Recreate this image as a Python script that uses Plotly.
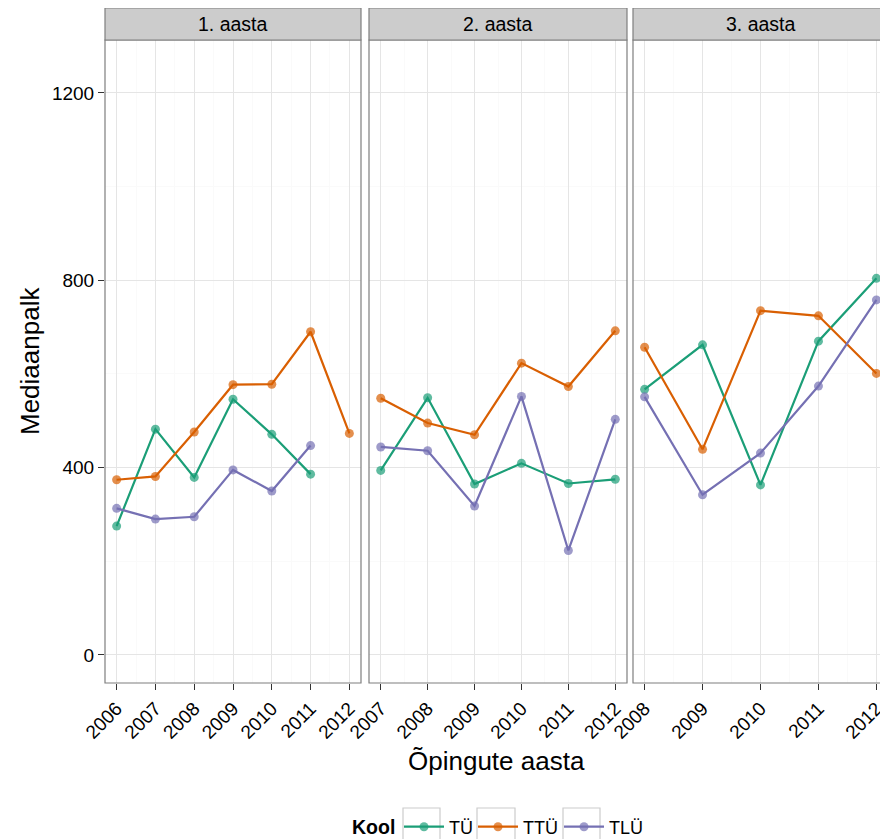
import plotly.graph_objects as go

# ---- data ----
schools = ["TÜ", "TTÜ", "TLÜ"]
colors = {"TÜ": "#1B9E77", "TTÜ": "#D95F02", "TLÜ": "#7570B3"}
marker_colors = {"TÜ": "rgba(27,158,119,0.7)", "TTÜ": "rgba(217,95,2,0.7)", "TLÜ": "rgba(117,112,179,0.7)"}

panel_titles = ["1. aasta", "2. aasta", "3. aasta"]

years_p1 = [2006, 2007, 2008, 2009, 2010, 2011, 2012]
years_p2 = [2007, 2008, 2009, 2010, 2011, 2012]
years_p3 = [2008, 2009, 2010, 2011, 2012]

p1_tu_years = [2006, 2007, 2008, 2009, 2010, 2011]
p1_tu = [275, 482, 379, 546, 471, 386]
p1_ttu_years = [2006, 2007, 2008, 2009, 2010, 2011, 2012]
p1_ttu = [374, 381, 476, 577, 578, 690, 473]
p1_tlu_years = [2006, 2007, 2008, 2009, 2010, 2011]
p1_tlu = [313, 290, 295, 395, 350, 447]

p2_tu = [394, 549, 365, 409, 366, 375]
p2_ttu = [548, 495, 470, 623, 573, 692]
p2_tlu = [444, 436, 318, 552, 223, 503]

p3_tu = [567, 662, 363, 670, 804]
p3_ttu = [657, 439, 735, 724, 601]
p3_tlu = [551, 342, 431, 574, 758]

y_ticks = [0, 400, 800, 1200]

panels = [
    {"TÜ": (p1_tu_years, p1_tu), "TTÜ": (p1_ttu_years, p1_ttu), "TLÜ": (p1_tlu_years, p1_tlu)},
    {"TÜ": (years_p2, p2_tu), "TTÜ": (years_p2, p2_ttu), "TLÜ": (years_p2, p2_tlu)},
    {"TÜ": (years_p3, p3_tu), "TTÜ": (years_p3, p3_ttu), "TLÜ": (years_p3, p3_tlu)},
]
panel_years = [years_p1, years_p2, years_p3]

# page body has an 8px margin: the figure is drawn 8px smaller and everything is shifted by 8px
OFF = 8
W, H = 888 - OFF, 839 - OFF
panel_px = [(105, 361), (369, 627), (633, 888)]
top_px, bottom_px, strip_top_px = 40, 683, 8
legend_key_px = [(403, 440), (477, 515), (563, 600)]
legend_names = ["legend", "legend2", "legend3"]

def px_x(p):
    return (p - OFF) / W

def px_y(p):
    return 1 - (p - OFF) / H

fig = go.Figure()
FONT = "Liberation Sans, Arial, sans-serif"

for i, pdata in enumerate(panels):
    suffix = "" if i == 0 else str(i + 1)
    for j, s in enumerate(schools):
        xs, ys = pdata[s]
        fig.add_trace(go.Scatter(
            x=xs, y=ys, mode="lines+markers", name=s,
            legendgroup=s, showlegend=(i == 0), legend=legend_names[j],
            line=dict(color=colors[s], width=2.2),
            marker=dict(color=marker_colors[s], size=9),
            xaxis="x" + suffix, yaxis="y" + suffix,
        ))

layout = dict(
    width=W, height=H,
    margin=dict(l=0, r=0, t=0, b=0, autoexpand=False),
    paper_bgcolor="white", plot_bgcolor="white",
    font=dict(family=FONT, color="black", size=18),
    showlegend=True,
)
for j, ln in enumerate(legend_names):
    layout[ln] = dict(
        orientation="h", x=px_x(legend_key_px[j][0] - 4), xanchor="left",
        y=px_y(827), yanchor="middle",
        font=dict(size=18), itemwidth=40, bgcolor="rgba(0,0,0,0)",
    )

shapes = []
annotations = []
for i, (x0, x1) in enumerate(panel_px):
    suffix = "" if i == 0 else str(i + 1)
    yrs = panel_years[i]
    span = yrs[-1] - yrs[0]
    pad = span * 0.05
    layout["xaxis" + suffix] = dict(
        domain=[px_x(x0), min(1.0, px_x(x1))], anchor="y" + suffix,
        range=[yrs[0] - pad, yrs[-1] + pad],
        tickvals=yrs, ticktext=[str(y) for y in yrs],
        tickangle=-45, ticks="outside", ticklen=6, tickcolor="#333333",
        tickfont=dict(size=19, color="black"),
        showgrid=True, gridcolor="#E5E5E5", gridwidth=1,
        minor=dict(tickvals=[y + 0.5 for y in yrs[:-1]], showgrid=True, gridcolor="#FAFAFA", gridwidth=1, ticks=""),
        zeroline=False, showline=False, fixedrange=True, automargin=False,
    )
    layout["yaxis" + suffix] = dict(
        domain=[px_y(bottom_px), px_y(top_px)], anchor="x" + suffix,
        range=[-60, 1313],
        tickvals=y_ticks, ticktext=[str(v) for v in y_ticks],
        showticklabels=(i == 0),
        ticks="outside" if i == 0 else "", ticklen=6, tickcolor="#333333",
        tickfont=dict(size=19, color="black"),
        showgrid=True, gridcolor="#E5E5E5", gridwidth=1,
        minor=dict(tickvals=[200, 600, 1000], showgrid=True, gridcolor="#FAFAFA", gridwidth=1, ticks=""),
        zeroline=False, showline=False, fixedrange=True, automargin=False,
    )
    # panel border
    shapes.append(dict(type="rect", xref="paper", yref="paper",
                       x0=px_x(x0), x1=px_x(x1), y0=px_y(bottom_px), y1=px_y(top_px),
                       line=dict(color="#7F7F7F", width=1.2), fillcolor="rgba(0,0,0,0)", layer="above"))
    # strip
    shapes.append(dict(type="rect", xref="paper", yref="paper",
                       x0=px_x(x0), x1=px_x(x1), y0=px_y(top_px), y1=px_y(strip_top_px),
                       line=dict(color="#7F7F7F", width=1.2), fillcolor="#CCCCCC", layer="above"))
    annotations.append(dict(text=panel_titles[i], xref="paper", yref="paper",
                            x=px_x((x0 + x1) / 2), y=px_y((top_px + strip_top_px) / 2),
                            xanchor="center", yanchor="middle", showarrow=False,
                            font=dict(size=19.5, color="black")))

# legend key boxes (ggplot-style grey key borders)
for (k0, k1) in legend_key_px:
    shapes.append(dict(type="rect", xref="paper", yref="paper",
                       x0=px_x(k0), x1=px_x(k1), y0=px_y(850), y1=px_y(808),
                       line=dict(color="#CCCCCC", width=1.2), fillcolor="white", layer="below"))

annotations.append(dict(text="<b>Kool</b>", xref="paper", yref="paper",
                        x=px_x(350), y=px_y(827), xanchor="left", yanchor="middle",
                        showarrow=False, font=dict(size=19.5, color="black")))
annotations.append(dict(text="Õpingute aasta", xref="paper", yref="paper",
                        x=px_x(496), y=px_y(761), xanchor="center", yanchor="middle",
                        showarrow=False, font=dict(size=26, color="black")))
annotations.append(dict(text="Mediaanpalk", xref="paper", yref="paper",
                        x=px_x(30), y=px_y(361), xanchor="center", yanchor="middle",
                        textangle=-90, showarrow=False, font=dict(size=26, color="black")))

layout["shapes"] = shapes
layout["annotations"] = annotations
fig.update_layout(**layout)

fig.write_html("out.html")
